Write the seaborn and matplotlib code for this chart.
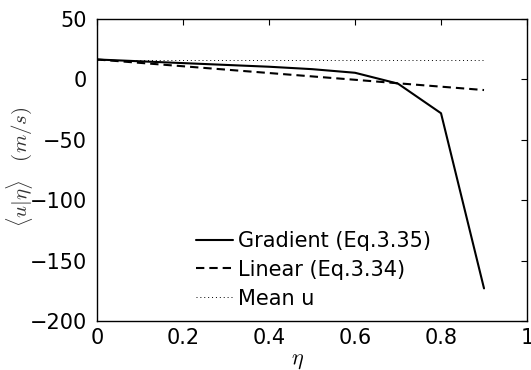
import numpy as np
import pandas as pd
import seaborn as sns
import matplotlib.pyplot as plt
import matplotlib as mpl

sns.set_style("white")
mpl.rcParams["font.family"] = ["DejaVu Sans"]
mpl.rcParams["mathtext.fontset"] = "cm"
mpl.rcParams["font.size"] = 15
mpl.rcParams["text.color"] = "black"
mpl.rcParams["axes.labelcolor"] = "black"
mpl.rcParams["xtick.color"] = "black"
mpl.rcParams["ytick.color"] = "black"

eta = [0.0, 0.1, 0.2, 0.3, 0.4, 0.5, 0.6, 0.7, 0.8, 0.9]
gradient = [16.5, 15.0, 13.5, 12.0, 10.5, 8.5, 5.5, -3.5, -28.0, -173.0]
linear = [16.5, 13.7, 10.9, 8.1, 5.3, 2.5, -0.3, -3.2, -6.0, -8.8]
mean_u = [16.0, 16.0, 16.0, 16.0, 16.0, 16.0, 16.0, 16.0, 16.0, 16.0]

labels = ["Gradient (Eq.3.35)", "Linear (Eq.3.34)", "Mean u"]
xticks = [0, 0.2, 0.4, 0.6, 0.8, 1]
xtick_labels = ["0", "0.2", "0.4", "0.6", "0.8", "1"]
yticks = [50, 0, -50, -100, -150, -200]

fig = plt.figure(figsize=(5.31, 3.70), dpi=100)
ax = fig.add_axes([0.1827, 0.1324, 0.8098, 0.8162])

styles = [
    dict(linewidth=1.5, linestyle="-"),
    dict(linewidth=1.5, linestyle=(0, (4, 2.4))),
    dict(linewidth=0.7, linestyle=(0, (1, 3))),
]
for ys, lab, st in zip([gradient, linear, mean_u], labels, styles):
    df = pd.DataFrame({"eta": eta, "u": ys})
    sns.lineplot(data=df, x="eta", y="u", color="black", label=lab, ax=ax, **st)

ax.set_xlim(0, 1)
ax.set_ylim(-200, 50)
ax.set_xticks(xticks)
ax.set_xticklabels(xtick_labels)
ax.set_yticks(yticks)
ax.tick_params(direction="in", top=True, right=True, length=4, width=0.8,
               labelsize=15)
ax.tick_params(axis="x", pad=5)
ax.tick_params(axis="y", pad=7)
for s in ax.spines.values():
    s.set_color("black")
    s.set_linewidth(1.0)

ax.set_xlabel(r"$\eta$", fontsize=16)
ax.xaxis.set_label_coords(0.467, -0.1)
ax.set_ylabel(r"$\langle u|\eta\rangle \quad (m/s)$", fontsize=15,
              color="#333333")
ax.yaxis.set_label_coords(-0.145, 0.51)

ax.legend(loc="lower left", bbox_to_anchor=(0.2, 0.0), frameon=False,
          fontsize=15, handlelength=1.8, handletextpad=0.25,
          labelspacing=0.42, borderaxespad=0.2)

fig.savefig("out.png", dpi=100)
